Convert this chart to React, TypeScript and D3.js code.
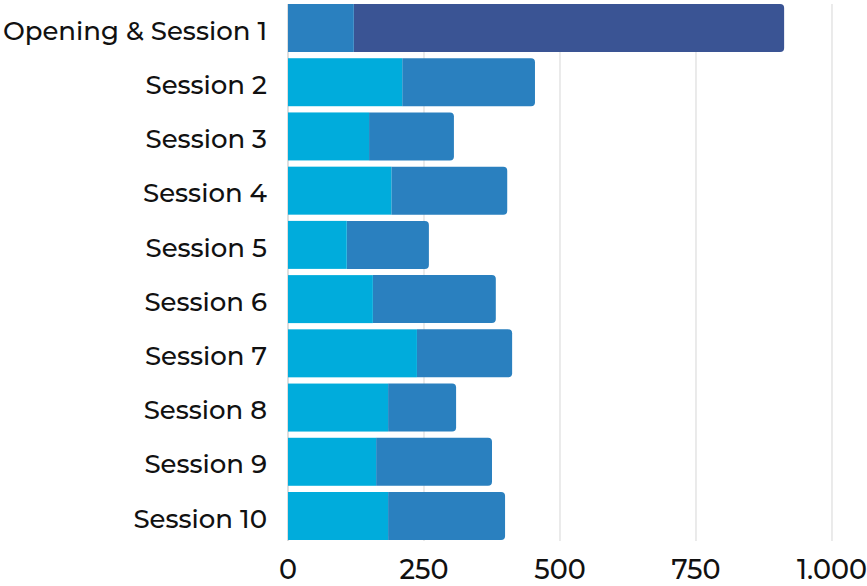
import React from "react";
import * as d3 from "d3";

const categories = ["Opening & Session 1","Session 2","Session 3","Session 4","Session 5","Session 6","Session 7","Session 8","Session 9","Session 10"];
const firstValues = [121, 210, 149, 190, 108, 156, 237, 184, 162, 184];
const secondValues = [791, 244, 156, 213, 151, 226, 175, 125, 213, 215];
const tickValues = [0, 250, 500, 750, 1000];
const tickLabels = ["0", "250", "500", "750", "1.000"];

const W = 867, H = 586;
const CYAN = "#00acdc", MID = "#2a80bf", DARK = "#3a5494";

function barPath(x0: number, x1: number, y: number, h: number, r: number) {
  const rr = Math.min(r, (x1 - x0) / 2);
  return `M${x0},${y}H${x1 - rr}Q${x1},${y} ${x1},${y + rr}V${y + h - rr}Q${x1},${y + h} ${x1 - rr},${y + h}H${x0}Z`;
}

export default function App() {
  const x = d3.scaleLinear().domain([0, 1000]).range([288, 832]);
  const y = d3.scaleBand<string>().domain(categories).range([4, 540]).paddingInner(0.1148).paddingOuter(0);
  const font = "Montserrat, 'Open Sans', 'Noto Sans', sans-serif";
  return (
    <svg width={W} height={H} style={{ position: "absolute", left: 0, top: 0 }}>
      <rect width={W} height={H} fill="#fff" />
      {tickValues.map((t, i) => (
        <line key={"g" + i} x1={x(t)} x2={x(t)} y1={4} y2={541} stroke={i === 0 ? "#c8c8c8" : "#dddddd"} strokeWidth={1.2} />
      ))}
      {categories.map((c, i) => {
        const yy = y(c)!;
        const bw = y.bandwidth();
        const a = firstValues[i], b = secondValues[i];
        const c1 = i === 0 ? MID : CYAN;
        const c2 = i === 0 ? DARK : MID;
        return (
          <g key={c}>
            <path d={barPath(x(a), x(a + b), yy, bw, 4)} fill={c2} />
            <rect x={x(0)} y={yy} width={x(a) - x(0)} height={bw} fill={c1} />
            <text x={267} y={yy + bw / 2} dy="0.45em" textAnchor="end" fontFamily={font} fontWeight={500} fontSize={26} fill="#111">{c}</text>
          </g>
        );
      })}
      {tickValues.map((t, i) => (
        <text key={"t" + i} x={x(t)} y={579} textAnchor="middle" fontFamily={font} fontWeight={500} fontSize={27} fill="#111">{tickLabels[i]}</text>
      ))}
    </svg>
  );
}
